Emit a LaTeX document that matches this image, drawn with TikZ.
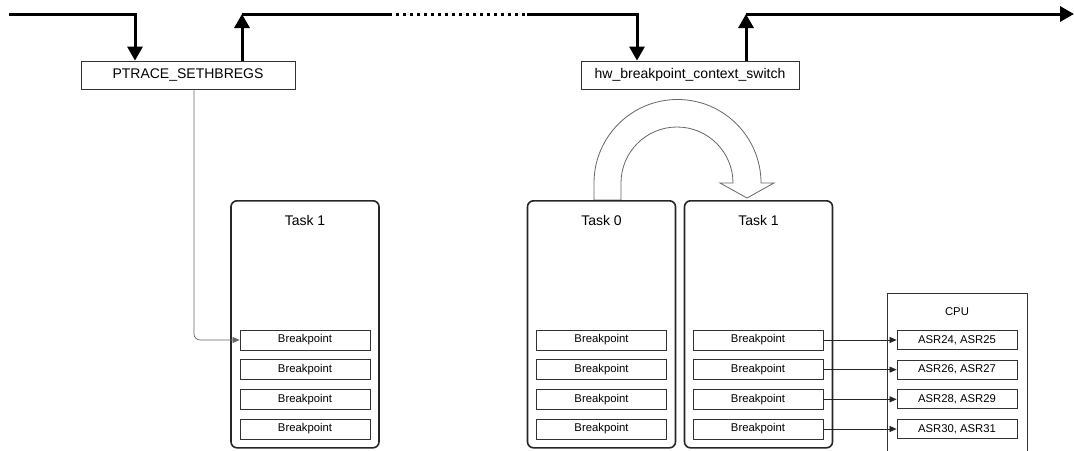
\documentclass[tikz,border=0pt]{standalone}
\usepackage{fontspec}
\setmainfont{Liberation Sans}
\usetikzlibrary{arrows.meta,positioning}

\tikzset{
  callbox/.style={draw=black!80, line width=0.8pt, inner sep=0pt, minimum height=28pt, font=\fontsize{14}{16}\selectfont},
  taskbox/.style={draw=black!85, line width=1.6pt, rounded corners=6pt, minimum width=148pt, minimum height=247pt, inner sep=0pt, anchor=north},
  tasktitle/.style={font=\fontsize{14}{16}\selectfont, inner sep=0pt},
  bpbox/.style={draw=black!80, line width=0.8pt, minimum width=130pt, minimum height=20pt, inner sep=0pt, font=\fontsize{11.3}{13}\selectfont},
  regbox/.style={bpbox, minimum width=120pt, minimum height=19pt},
  timeline/.style={line width=3pt},
  flow/.style={timeline, -{Triangle[width=15pt,length=14pt]}},
  link/.style={draw=black!85, line width=0.7pt, -{Triangle[width=6pt,length=7pt]}}
}

\begin{document}
\begin{tikzpicture}[x=1pt,y=-1pt]
    \useasboundingbox (0,0) rectangle (1074,450);
    % calls on the time line
    \node[callbox, minimum width=214pt] (ptrace) at (188,75) {PTRACE\_SETHBREGS};
    \node[callbox, minimum width=218pt] (hwswitch) at (690,75) {hw\_breakpoint\_context\_switch};
    \coordinate (start) at (9,14);
    \coordinate (upA) at (242,14);
    \coordinate (dotA) at (389,14);
    \coordinate (dotB) at (527,14);
    \coordinate (upB) at (746,14);
    \coordinate (finish) at (1074,14);
    \draw[flow] (start) -| ([xshift=-53pt]ptrace.north);
    \draw[flow] ([xshift=54pt]ptrace.north) -- (upA);
    \draw[timeline] (upA) -- (dotA);
    \draw[timeline, dash pattern=on 3pt off 4pt] (dotA) -- (dotB);
    \draw[flow] (dotB) -| ([xshift=-53pt]hwswitch.north);
    \draw[flow] ([xshift=56pt]hwswitch.north) -- (upB);
    \draw[flow] (upB) -- (finish);
    % switch arrow
    \draw[draw=black!60, fill=white, line width=0.8pt] (594,200) -- (594,183)
        arc[start angle=180, end angle=360, radius=83.5] -- (774,183) -- (747,198)
        -- (720,183) -- (733,183) arc[start angle=0, end angle=-180, radius=56]
        -- (621,200) -- cycle;
    % tasks
    \node[taskbox] (taskA) at (305,200) {};
    \node[taskbox] (taskB) at (601.5,200) {};
    \node[taskbox] (taskC) at (758.5,200) {};
    \node[tasktitle] (titleA) at ([yshift=-20pt]taskA.north) {Task 1};
    \node[tasktitle] (titleB) at ([yshift=-20pt]taskB.north) {Task 0};
    \node[tasktitle] (titleC) at ([yshift=-20pt]taskC.north) {Task 1};
    % cpu
    \node[draw=black!80, line width=0.8pt, minimum width=140pt, minimum height=190pt, anchor=north, inner sep=0pt] (cpu) at (957,293) {};
    \node[font=\fontsize{11.3}{13}\selectfont, inner sep=0pt] (cpulabel) at (957,312) {CPU};
    \foreach \i/\r in {1/{ASR24, ASR25}, 2/{ASR26, ASR27}, 3/{ASR28, ASR29}, 4/{ASR30, ASR31}} {
        \node[bpbox] (bpA\i) at (305,{310.3+29.67*\i}) {Breakpoint};
        \node[bpbox] (bpB\i) at (601.5,{310.3+29.67*\i}) {Breakpoint};
        \node[bpbox] (bpC\i) at (758,{310.3+29.67*\i}) {Breakpoint};
        \node[regbox] (asr\i) at (957,{310.3+29.67*\i}) {\r};
        \draw[link] (bpC\i.east) -- (asr\i.west);
    }
    \draw[link, draw=black!60, rounded corners=6pt] ([xshift=6pt]ptrace.south) |- (bpA1.west);
\end{tikzpicture}
\end{document}
